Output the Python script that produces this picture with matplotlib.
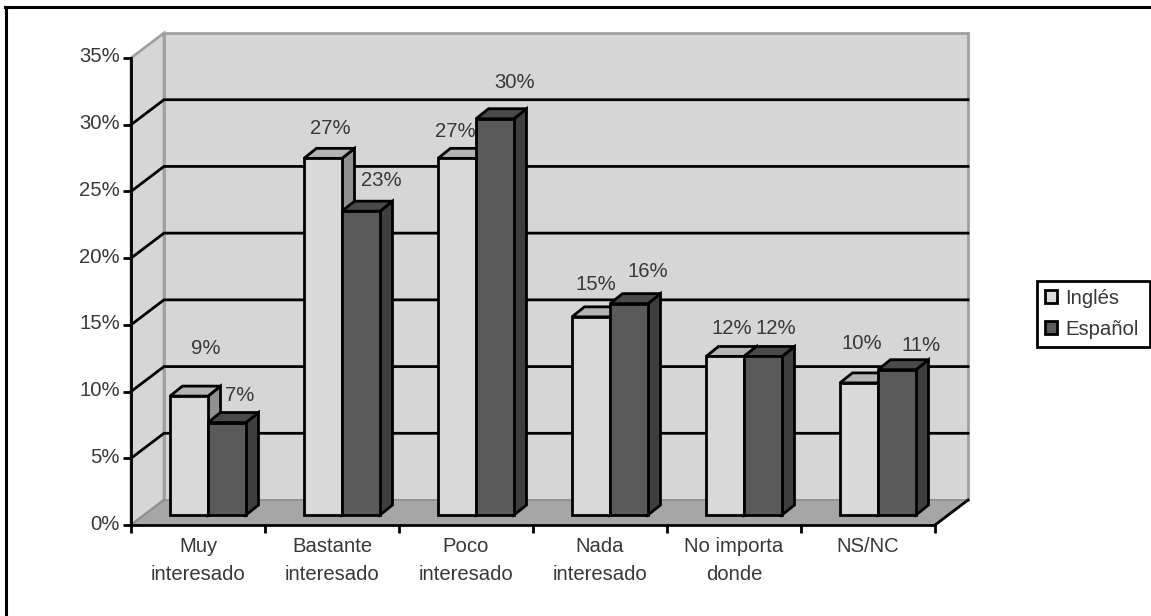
import matplotlib
matplotlib.use('Agg')
import matplotlib.pyplot as plt
from matplotlib.lines import Line2D
from matplotlib.patches import Polygon, Rectangle, Patch
from matplotlib.transforms import ScaledTranslation

categories = ['Muy\ninteresado', 'Bastante\ninteresado', 'Poco\ninteresado',
              'Nada\ninteresado', 'No importa\ndonde', 'NS/NC']
ingles = [9, 27, 27, 15, 12, 10]
espanol = [7, 23, 30, 16, 12, 11]
yticks = [0, 5, 10, 15, 20, 25, 30, 35]

# label offsets from the bar's top left corner, in pixels
ingles_offsets = [(36, 48), (26, 30), (17, 27), (24, 32), (26, 28), (22, 39)]
espanol_offsets = [(32, 27), (39, 31), (39, 36), (38, 32), (32, 28), (43, 24)]

TEXT = '#383838'
FS = 14.6
plt.rcParams['font.family'] = ['Liberation Sans', 'DejaVu Sans']
plt.rcParams['font.size'] = FS

W, H = 1151, 616
fig = plt.figure(figsize=(W / 100, H / 100), dpi=100)
ax = fig.add_axes([131 / W, (H - 525) / H, 804 / W, 467 / H])
ax.set_xlim(0, 6)
ax.set_ylim(0, 35)

px = 6 / 804  # one pixel in x units
py = 35 / 467  # one pixel in y units
depth_x, depth_y = 33 * px, 25 * py
bar_w = 38 * px
bar_dx, bar_dy = 12.5 * px, 10 * py
base = 10 * py


def draw_bar(x, value, front, top, side):
    y = base + 0.99 * value
    ax.add_patch(Polygon([(x + bar_w, base), (x + bar_w + bar_dx, base + bar_dy),
                          (x + bar_w + bar_dx, y + bar_dy), (x + bar_w, y)],
                         fc=side, ec='black', lw=2, zorder=5, clip_on=False))
    ax.add_patch(Polygon([(x, y), (x + bar_dx, y + bar_dy),
                          (x + bar_w + bar_dx, y + bar_dy), (x + bar_w, y)],
                         fc=top, ec='black', lw=2, zorder=5, clip_on=False))
    ax.add_patch(Rectangle((x, base), bar_w, y - base, fc=front, ec='black',
                           lw=2, zorder=5, clip_on=False))
    return y


# walls and floor
ax.add_patch(Rectangle((depth_x, depth_y), 6, 35, fc='#d6d6d6', ec='#a0a0a0', lw=2,
                       zorder=1, clip_on=False))
ax.add_patch(Polygon([(0, 0), (depth_x, depth_y), (depth_x, 35 + depth_y), (0, 35)],
                     fc='#d6d6d6', ec='#a0a0a0', lw=2, zorder=1, clip_on=False))
ax.add_patch(Polygon([(0, 0), (6, 0), (6 + depth_x, depth_y), (depth_x, depth_y)],
                     fc='#a6a6a6', ec='#8c8c8c', lw=1, zorder=2, clip_on=False))

for v in yticks[1:-1]:
    ax.plot([0, depth_x, 6 + depth_x], [v, v + depth_y, v + depth_y],
            color='black', lw=2, zorder=3, clip_on=False, solid_joinstyle='miter')
ax.plot([0, depth_x], [0, depth_y], color='#8c8c8c', lw=1, zorder=3)

# bars, second series drawn later so it sits over the first one's side
start = 39 * px
for i in range(len(categories)):
    x1 = i + start
    x2 = x1 + bar_w
    y1 = draw_bar(x1, ingles[i], '#d9d9d9', '#b4b4b4', '#909090')
    y2 = draw_bar(x2, espanol[i], '#5a5a5a', '#4a4a4a', '#3e3e3e')
    for x, y, off, v in [(x1, y1, ingles_offsets[i], ingles[i]),
                         (x2, y2, espanol_offsets[i], espanol[i])]:
        ax.annotate('%d%%' % v, (x, y), xytext=(off[0] * 0.72, off[1] * 0.72),
                    textcoords='offset points', ha='center', va='center',
                    color=TEXT, fontsize=FS, zorder=6, annotation_clip=False)

# axes
for s in ['top', 'right']:
    ax.spines[s].set_visible(False)
ax.patch.set_visible(False)
for s in ['left', 'bottom']:
    ax.spines[s].set_linewidth(2)
    ax.spines[s].set_zorder(4)
ax.plot([6, 6 + depth_x], [0, depth_y], color='black', lw=2, zorder=4, clip_on=False)
ax.set_xticks(range(7))
ax.set_xticklabels([])
ax.set_xticks([i + 0.5 for i in range(6)], categories, minor=True)
ax.tick_params(axis='x', which='major', length=6, width=2, direction='out')
ax.tick_params(axis='x', which='minor', length=0, pad=9, labelcolor=TEXT, labelsize=FS)
for lab in ax.get_xticklabels(minor=True):
    lab.set_linespacing(1.6)
ax.set_yticks(yticks, ['%d%%' % v for v in yticks])
ax.tick_params(axis='y', length=6, width=2, direction='out', pad=2, labelcolor=TEXT, labelsize=FS)
shift_up = ScaledTranslation(0, 3 / 100, fig.dpi_scale_trans)
for lab in ax.get_yticklabels():
    lab.set_transform(lab.get_transform() + shift_up)

leg = fig.legend(handles=[Patch(fc='#d9d9d9', ec='black', lw=2, label='Inglés'),
                          Patch(fc='#5a5a5a', ec='black', lw=2, label='Español')],
                 loc='upper left', bbox_to_anchor=(1037 / W, (H - 347) / H, 113 / W, 66 / H),
                 mode='expand', borderaxespad=0,
                 fancybox=False, edgecolor='black', framealpha=1, fontsize=FS,
                 handlelength=0.62, handleheight=0.62, handletextpad=0.4,
                 borderpad=0.38, labelspacing=0.6, labelcolor=TEXT)
leg.get_frame().set_linewidth(2)

# outer frame only shows on the left and top
fig.add_artist(Line2D([6 / W, 6 / W], [0, (H - 7) / H], color='black', lw=2.2))
fig.add_artist(Line2D([5 / W, 1], [(H - 7) / H, (H - 7) / H], color='black', lw=2.2))

fig.savefig('out.png', dpi=100, facecolor='white')
